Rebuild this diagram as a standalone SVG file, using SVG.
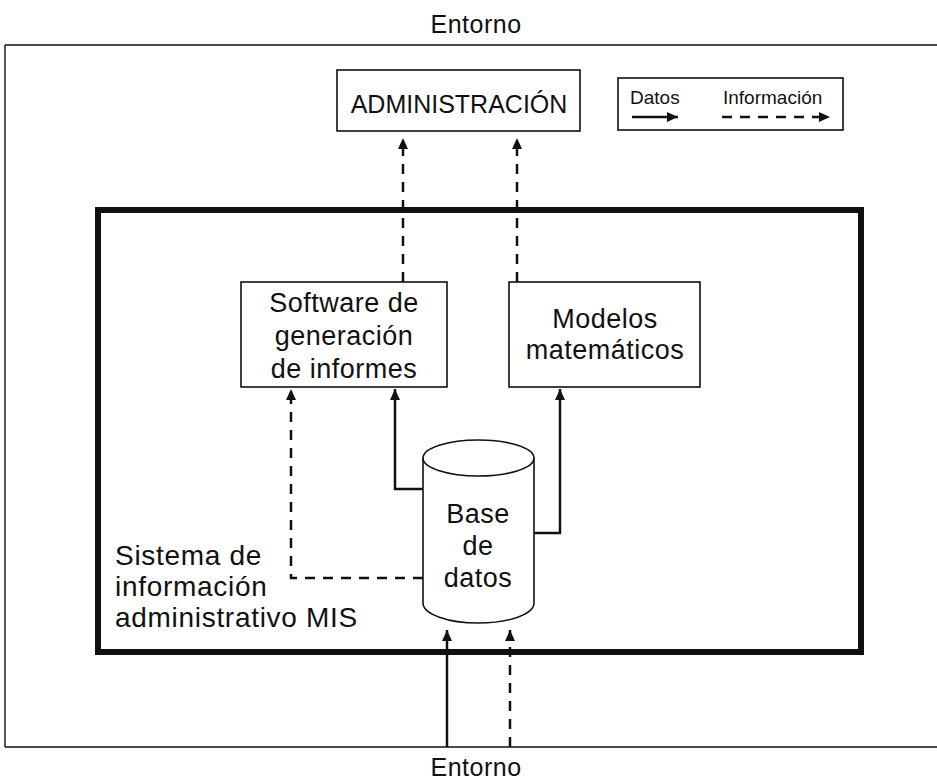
<svg xmlns="http://www.w3.org/2000/svg" width="937" height="781" viewBox="0 0 937 781">
<style>
text{font-family:"Liberation Sans",Arial,sans-serif;fill:#111}
.box{fill:#fff;stroke:#111;stroke-width:1.6}
.solid{fill:none;stroke:#111;stroke-width:2.5}
.dash{fill:none;stroke:#111;stroke-width:2.5;stroke-dasharray:10 8}
.t27{font-size:27px;text-anchor:middle;letter-spacing:0.5px}
.t28{font-size:28px;letter-spacing:0.7px}
</style>
<defs>
<marker id="ah" markerUnits="userSpaceOnUse" markerWidth="12" markerHeight="12" viewBox="0 0 12 12" refX="11" refY="6" orient="auto">
<path d="M0,1 L11,6 L0,11 Z" fill="#111"/>
</marker>
</defs>
<rect width="937" height="781" fill="#fff"/>
<g id="entorno">
<path d="M5,45 L937,45 M5,45 L5,747 M5,747 L937,747" fill="none" stroke="#111" stroke-width="1.4"/>
<text x="476" y="33" font-size="25" text-anchor="middle" letter-spacing="0.5">Entorno</text>
<text x="476" y="776" font-size="25" text-anchor="middle" letter-spacing="0.5">Entorno</text>
</g>
<g id="mis">
<rect x="98" y="210" width="763" height="442" fill="none" stroke="#111" stroke-width="6"/>
<text class="t28" x="115" y="565">Sistema de</text>
<text class="t28" x="115" y="596">información</text>
<text class="t28" x="115" y="627">administrativo MIS</text>
</g>
<g id="administracion">
<rect class="box" x="337" y="70" width="243" height="61"/>
<text x="459" y="113" font-size="25" text-anchor="middle">ADMINISTRACIÓN</text>
</g>
<g id="leyenda">
<rect class="box" x="618" y="78" width="225" height="52"/>
<text x="630" y="104" font-size="19">Datos</text>
<text x="723" y="104" font-size="19">Información</text>
<path class="solid" d="M632,117 L678,117" marker-end="url(#ah)"/>
<path class="dash" d="M722,117 L830,117" marker-end="url(#ah)"/>
</g>
<g id="software">
<rect class="box" x="241" y="282" width="206" height="105"/>
<text class="t27" x="344" y="312">Software de</text>
<text class="t27" x="344" y="345">generación</text>
<text class="t27" x="344" y="378">de informes</text>
</g>
<g id="modelos">
<rect class="box" x="509" y="282" width="191" height="105"/>
<text class="t27" x="605" y="328">Modelos</text>
<text class="t27" x="605" y="359">matemáticos</text>
</g>
<g id="basedatos">
<path d="M423,458 A55.5,18 0 0,1 534,458 L534,603 A55.5,20 0 0,1 423,603 Z" fill="#fff" stroke="#111" stroke-width="1.6"/>
<path d="M423,458 A55.5,18 0 0,0 534,458" fill="none" stroke="#111" stroke-width="1.6"/>
<text class="t27" x="478" y="523">Base</text>
<text class="t27" x="478" y="555">de</text>
<text class="t27" x="478" y="587">datos</text>
</g>
<g id="connectors">
<path class="dash" d="M403,282 L403,138" marker-end="url(#ah)"/>
<path class="dash" d="M517,282 L517,138" marker-end="url(#ah)"/>
<path class="dash" d="M423,578 L291,578 L291,389" marker-end="url(#ah)"/>
<path class="solid" d="M423,489 L395,489 L395,389" marker-end="url(#ah)"/>
<path class="solid" d="M534,533 L560,533 L560,389" marker-end="url(#ah)"/>
<path class="solid" d="M447,747 L447,630" marker-end="url(#ah)"/>
<path class="dash" d="M510,747 L510,630" marker-end="url(#ah)"/>
</g>
</svg>
